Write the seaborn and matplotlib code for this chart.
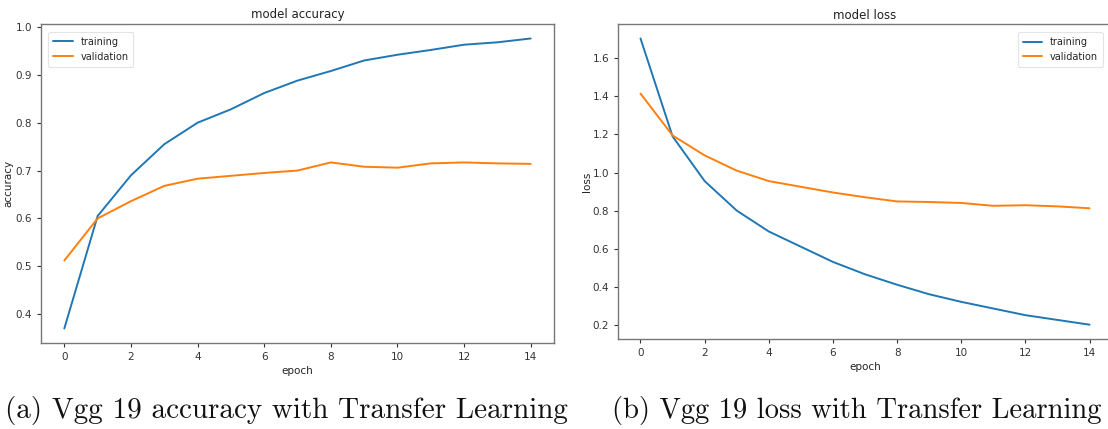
import matplotlib
matplotlib.use("Agg")
import matplotlib.pyplot as plt
import seaborn as sns
import pandas as pd

# Training history of the VGG19 transfer-learning run
epochs = list(range(15))
train_acc = [0.370, 0.605, 0.690, 0.755, 0.800, 0.828, 0.862, 0.888, 0.908,
             0.930, 0.942, 0.952, 0.963, 0.968, 0.976]
val_acc = [0.512, 0.600, 0.636, 0.668, 0.683, 0.689, 0.695, 0.700, 0.717,
           0.708, 0.706, 0.715, 0.717, 0.715, 0.714]
train_loss = [1.705, 1.190, 0.955, 0.800, 0.690, 0.610, 0.530, 0.465, 0.410,
              0.360, 0.320, 0.285, 0.250, 0.225, 0.200]
val_loss = [1.415, 1.195, 1.090, 1.010, 0.955, 0.925, 0.895, 0.870, 0.848,
            0.845, 0.840, 0.825, 0.828, 0.822, 0.812]
series_names = ["training", "validation"]
captions = ["(a) Vgg 19 accuracy with Transfer Learning",
            "(b) Vgg 19 loss with Transfer Learning"]

sns.set_theme(style="ticks")
plt.rcParams["font.family"] = ["DejaVu Sans"]

palette = {"training": "#1f77b4", "validation": "#ff7f0e"}


def history_frame(train, val):
    return pd.DataFrame({
        "epoch": epochs * 2,
        "value": train + val,
        "series": [series_names[0]] * len(epochs) + [series_names[1]] * len(epochs),
    })


fig = plt.figure(figsize=(11.08, 4.29), dpi=100)
ax_acc = fig.add_axes([0.037, 0.2005, 0.463, 0.7436])
ax_loss = fig.add_axes([0.5578, 0.2098, 0.4458, 0.734])

panels = [
    (ax_acc, history_frame(train_acc, val_acc), "model accuracy", "accuracy",
     "upper left", (0.005, 0.99)),
    (ax_loss, history_frame(train_loss, val_loss), "model loss", "loss",
     "upper right", (0.992, 0.99)),
]

for ax, df, title, ylabel, loc, anchor in panels:
    sns.lineplot(data=df, x="epoch", y="value", hue="series", palette=palette,
                 linewidth=1.4, ax=ax)
    ax.set_title(title, fontsize=8.5, color="#222222", pad=4)
    ax.set_xlabel("epoch", fontsize=7.5, color="#222222", labelpad=3)
    ax.set_ylabel(ylabel, fontsize=7.5, color="#222222")
    ax.yaxis.set_label_coords(-0.053, 0.5)
    ax.set_xticks(range(0, 15, 2))
    ax.tick_params(labelsize=7.5, colors="#333333", length=3, width=0.8)
    for spine in ax.spines.values():
        spine.set_visible(True)
        spine.set_color("#777777")
        spine.set_linewidth(1.0)
    leg = ax.legend(loc=loc, bbox_to_anchor=anchor, fontsize=7, frameon=True,
                    handlelength=2.0, borderpad=0.5, labelspacing=0.5)
    leg.get_frame().set_edgecolor("#dddddd")
    leg.get_frame().set_linewidth(0.8)

fig.text(0.0045, 0.026, captions[0], fontfamily="cmr10", fontsize=21,
         color="#111111", ha="left", va="baseline")
fig.text(0.5525, 0.026, captions[1], fontfamily="cmr10", fontsize=20.6,
         color="#111111", ha="left", va="baseline")

fig.savefig("out.png", dpi=100)
